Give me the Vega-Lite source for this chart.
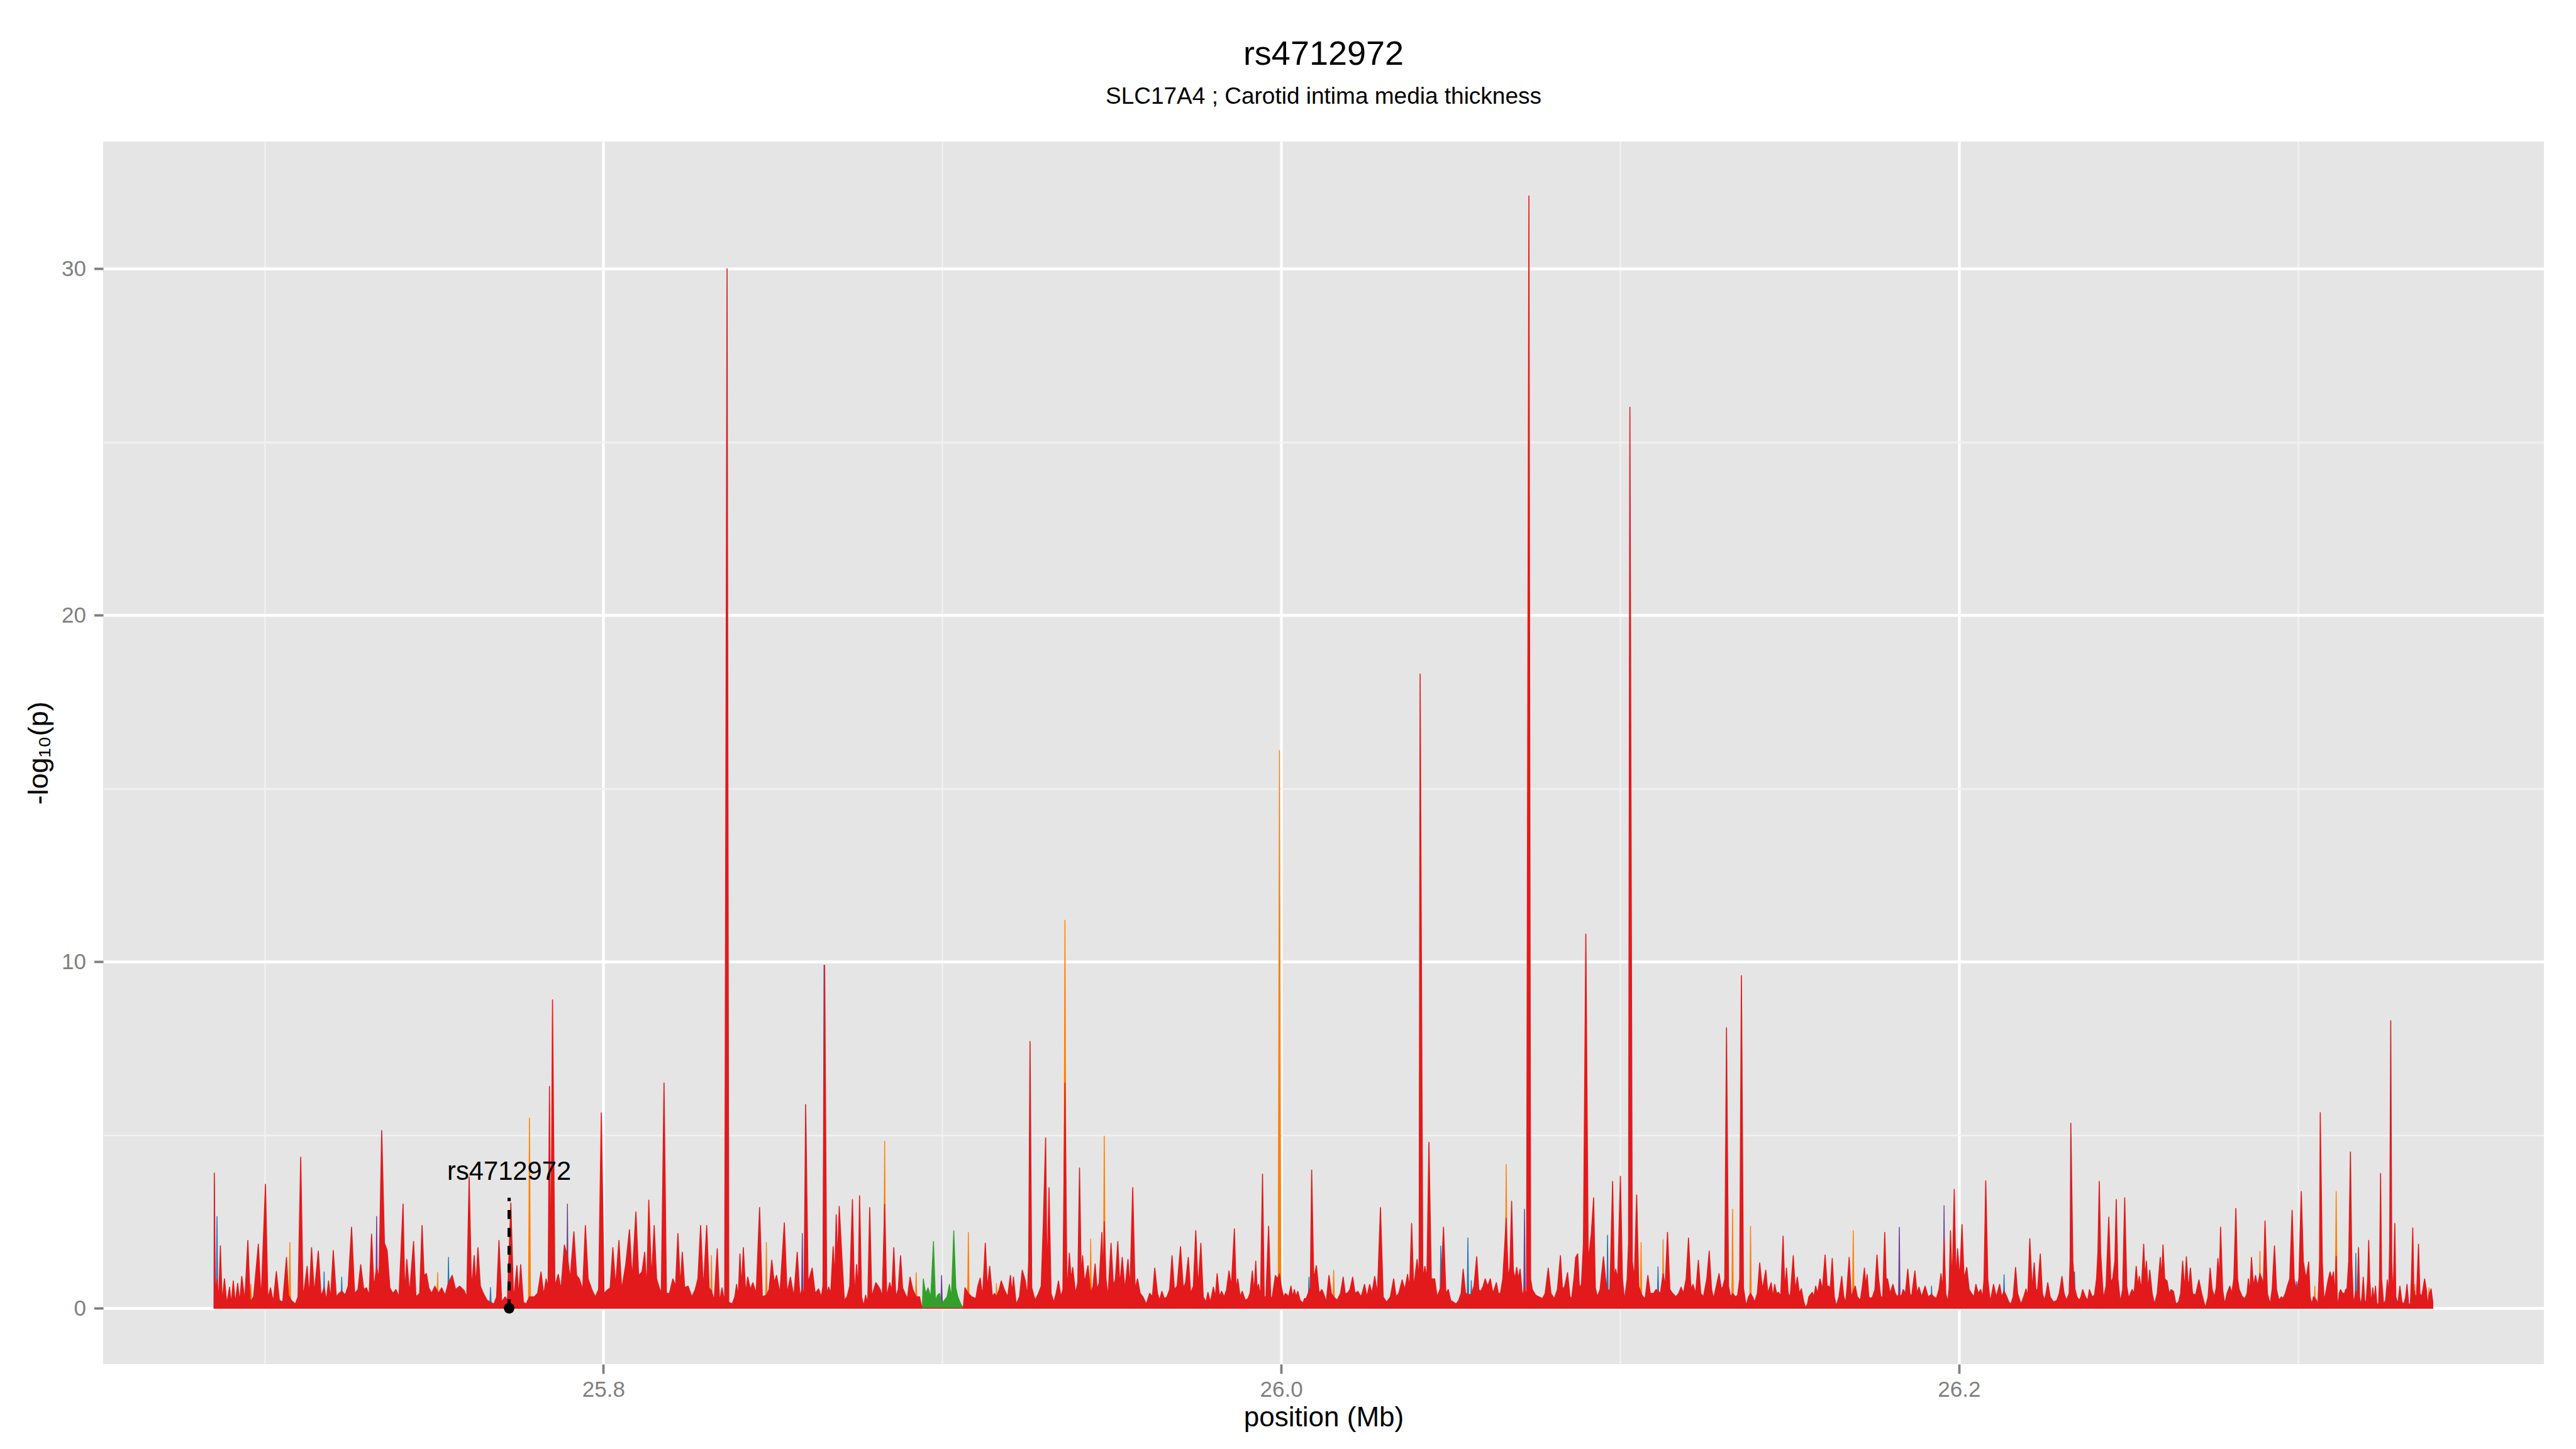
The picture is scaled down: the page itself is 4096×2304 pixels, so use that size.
{
"$schema": "https://vega.github.io/schema/vega-lite/v6.json",
"width": 3881,
"height": 1944,
"autosize": {"type": "none"},
"padding": {"left": 164, "top": 225, "right": 51, "bottom": 135},
"background": "#FFFFFF",
"config": {"view": {"fill": "#E5E5E5", "stroke": null}, "font": "Liberation Sans"},
"title": {"text": "rs4712972", "subtitle": "SLC17A4 ; Carotid intima media thickness", "anchor": "middle", "frame": "group", "font": "Liberation Sans", "fontSize": 54, "fontWeight": "normal", "color": "#000000", "subtitleFont": "Liberation Sans", "subtitleFontSize": 37, "subtitleFontWeight": "normal", "subtitleColor": "#000000", "subtitlePadding": 22, "offset": 53},
"datasets": {
"red": [
{"x":25.6852,"y":3.9},{"x":25.6855,"y":0.43},{"x":25.686,"y":0.85},{"x":25.6865,"y":0.23},{"x":25.687,"y":1.8},{"x":25.6875,"y":0.18},{"x":25.6882,"y":0.85},{"x":25.6889,"y":0.12},{"x":25.6897,"y":0.61},{"x":25.6902,"y":0.12},{"x":25.6908,"y":0.79},{"x":25.6914,"y":0.15},{"x":25.6921,"y":0.72},{"x":25.6927,"y":0.18},{"x":25.6933,"y":0.92},{"x":25.6942,"y":0.23},{"x":25.6951,"y":1.96},{"x":25.6958,"y":0.18},{"x":25.6968,"y":0.33},{"x":25.6982,"y":1.85},{"x":25.699,"y":0.23},{"x":25.7003,"y":3.58},{"x":25.701,"y":0.28},{"x":25.7018,"y":0.59},{"x":25.7026,"y":0.18},{"x":25.7035,"y":1.06},{"x":25.7044,"y":0.23},{"x":25.7054,"y":0.18},{"x":25.7065,"y":1.47},{"x":25.7071,"y":0.38},{"x":25.7079,"y":0.23},{"x":25.7091,"y":0.12},{"x":25.7099,"y":0.33},{"x":25.7107,"y":4.36},{"x":25.7114,"y":0.28},{"x":25.7126,"y":1.21},{"x":25.7132,"y":0.33},{"x":25.7139,"y":1.75},{"x":25.7147,"y":0.43},{"x":25.7159,"y":1.65},{"x":25.7167,"y":0.33},{"x":25.7176,"y":0.6},{"x":25.7183,"y":0.23},{"x":25.7189,"y":0.79},{"x":25.7195,"y":0.28},{"x":25.7203,"y":1.67},{"x":25.7212,"y":0.33},{"x":25.722,"y":0.43},{"x":25.7228,"y":0.5},{"x":25.7238,"y":0.38},{"x":25.7247,"y":0.64},{"x":25.7257,"y":2.34},{"x":25.7266,"y":0.43},{"x":25.7276,"y":0.54},{"x":25.7284,"y":1.26},{"x":25.7293,"y":0.54},{"x":25.7301,"y":0.59},{"x":25.7309,"y":0.38},{"x":25.7316,"y":2.14},{"x":25.7323,"y":0.59},{"x":25.7331,"y":1.2},{"x":25.7338,"y":0.85},{"x":25.7346,"y":5.13},{"x":25.7354,"y":1.88},{"x":25.7362,"y":1.67},{"x":25.737,"y":0.59},{"x":25.7379,"y":0.43},{"x":25.7388,"y":0.54},{"x":25.7397,"y":0.33},{"x":25.7409,"y":3.01},{"x":25.7414,"y":0.43},{"x":25.742,"y":1.41},{"x":25.7428,"y":0.43},{"x":25.744,"y":1.93},{"x":25.7447,"y":0.33},{"x":25.7458,"y":0.43},{"x":25.7465,"y":2.39},{"x":25.7471,"y":0.95},{"x":25.7478,"y":1.0},{"x":25.7485,"y":0.59},{"x":25.7493,"y":0.43},{"x":25.7503,"y":0.64},{"x":25.7513,"y":0.43},{"x":25.7523,"y":0.59},{"x":25.7533,"y":0.38},{"x":25.7543,"y":0.74},{"x":25.7554,"y":0.95},{"x":25.7564,"y":0.54},{"x":25.7576,"y":0.64},{"x":25.7589,"y":0.51},{"x":25.7597,"y":0.33},{"x":25.7604,"y":3.79},{"x":25.7611,"y":0.54},{"x":25.7619,"y":1.52},{"x":25.7624,"y":0.64},{"x":25.763,"y":1.75},{"x":25.7637,"y":0.64},{"x":25.7646,"y":0.43},{"x":25.7657,"y":0.23},{"x":25.7667,"y":0.18},{"x":25.7677,"y":0.12},{"x":25.7685,"y":0.33},{"x":25.7692,"y":1.96},{"x":25.77,"y":0.18},{"x":25.771,"y":0.33},{"x":25.7717,"y":0.23},{"x":25.7727,"y":3.04},{"x":25.7735,"y":0.23},{"x":25.7745,"y":1.23},{"x":25.775,"y":0.33},{"x":25.7756,"y":1.26},{"x":25.7764,"y":0.18},{"x":25.7772,"y":0.12},{"x":25.7782,"y":0.33},{"x":25.7796,"y":0.33},{"x":25.7806,"y":0.43},{"x":25.7816,"y":1.05},{"x":25.7824,"y":0.38},{"x":25.7831,"y":0.85},{"x":25.7837,"y":0.59},{"x":25.7841,"y":6.4},{"x":25.7845,"y":0.64},{"x":25.785,"y":8.9},{"x":25.7857,"y":0.64},{"x":25.7867,"y":0.98},{"x":25.7875,"y":0.54},{"x":25.7885,"y":1.83},{"x":25.7894,"y":1.5},{"x":25.7902,"y":0.85},{"x":25.7913,"y":2.21},{"x":25.7921,"y":0.95},{"x":25.7929,"y":0.85},{"x":25.7939,"y":0.54},{"x":25.7947,"y":2.39},{"x":25.7955,"y":0.85},{"x":25.7966,"y":0.54},{"x":25.7976,"y":0.33},{"x":25.7986,"y":0.54},{"x":25.7994,"y":5.64},{"x":25.8002,"y":0.43},{"x":25.8013,"y":0.54},{"x":25.802,"y":0.59},{"x":25.8028,"y":1.75},{"x":25.8036,"y":0.64},{"x":25.8046,"y":1.96},{"x":25.8054,"y":0.54},{"x":25.8066,"y":1.26},{"x":25.8077,"y":2.27},{"x":25.8085,"y":0.85},{"x":25.8096,"y":2.78},{"x":25.8104,"y":0.95},{"x":25.8114,"y":1.05},{"x":25.8122,"y":1.62},{"x":25.8128,"y":0.54},{"x":25.8134,"y":3.12},{"x":25.8142,"y":0.85},{"x":25.815,"y":2.39},{"x":25.8157,"y":0.85},{"x":25.8165,"y":0.59},{"x":25.8171,"y":0.43},{"x":25.8179,"y":6.5},{"x":25.8186,"y":0.43},{"x":25.8195,"y":0.43},{"x":25.8205,"y":0.85},{"x":25.8213,"y":0.64},{"x":25.822,"y":2.16},{"x":25.8227,"y":0.64},{"x":25.8233,"y":1.62},{"x":25.824,"y":0.59},{"x":25.825,"y":0.64},{"x":25.8261,"y":0.33},{"x":25.8271,"y":0.54},
{"x":25.8279,"y":0.85},{"x":25.8287,"y":2.39},{"x":25.8295,"y":0.54},{"x":25.8305,"y":2.39},{"x":25.8312,"y":0.59},{"x":25.8319,"y":0.5},{"x":25.8327,"y":0.23},{"x":25.8336,"y":1.72},{"x":25.8343,"y":0.18},{"x":25.835,"y":0.59},{"x":25.8358,"y":0.18},{"x":25.8365,"y":30.0},{"x":25.837,"y":0.18},{"x":25.838,"y":0.12},{"x":25.8388,"y":0.33},{"x":25.8393,"y":0.69},{"x":25.8398,"y":0.33},{"x":25.8403,"y":1.57},{"x":25.8408,"y":0.59},{"x":25.8413,"y":1.75},{"x":25.842,"y":0.43},{"x":25.8426,"y":0.9},{"x":25.8434,"y":0.54},{"x":25.8441,"y":0.74},{"x":25.8451,"y":0.43},{"x":25.8461,"y":2.91},{"x":25.8469,"y":0.33},{"x":25.8481,"y":0.38},{"x":25.8489,"y":0.54},{"x":25.8497,"y":1.39},{"x":25.8504,"y":0.74},{"x":25.8511,"y":0.95},{"x":25.8521,"y":0.43},{"x":25.8534,"y":2.47},{"x":25.8542,"y":0.43},{"x":25.8552,"y":0.9},{"x":25.8562,"y":0.33},{"x":25.8572,"y":1.62},{"x":25.858,"y":0.33},{"x":25.8587,"y":0.6},{"x":25.8592,"y":0.33},{"x":25.8597,"y":5.88},{"x":25.8604,"y":0.74},{"x":25.8616,"y":1.16},{"x":25.8625,"y":0.43},{"x":25.8635,"y":0.56},{"x":25.8643,"y":0.33},{"x":25.8648,"y":0.64},{"x":25.8653,"y":9.9},{"x":25.8659,"y":0.43},{"x":25.8665,"y":0.61},{"x":25.8671,"y":0.43},{"x":25.8678,"y":1.78},{"x":25.8683,"y":0.85},{"x":25.8687,"y":2.7},{"x":25.8691,"y":1.36},{"x":25.8696,"y":2.94},{"x":25.8703,"y":1.62},{"x":25.8711,"y":0.23},{"x":25.8719,"y":0.33},{"x":25.8727,"y":0.64},{"x":25.8735,"y":3.14},{"x":25.8741,"y":0.33},{"x":25.8747,"y":1.26},{"x":25.8752,"y":0.54},{"x":25.8756,"y":3.25},{"x":25.8762,"y":0.33},{"x":25.8768,"y":0.07},{"x":25.8774,"y":0.38},{"x":25.878,"y":0.12},{"x":25.8786,"y":2.91},{"x":25.8792,"y":0.33},{"x":25.8798,"y":0.54},{"x":25.8804,"y":0.74},{"x":25.8811,"y":0.64},{"x":25.8817,"y":0.54},{"x":25.8823,"y":0.33},{"x":25.883,"y":3.0},{"x":25.8836,"y":0.33},{"x":25.8845,"y":0.74},{"x":25.8851,"y":0.49},{"x":25.8857,"y":1.75},{"x":25.8863,"y":0.33},{"x":25.887,"y":0.54},{"x":25.8877,"y":1.52},{"x":25.8883,"y":0.59},{"x":25.889,"y":0.43},{"x":25.8897,"y":0.28},{"x":25.8905,"y":0.9},{"x":25.8913,"y":0.54},{"x":25.8923,"y":0.33},{"x":25.8933,"y":0.33},{"x":25.894,"y":0},{"x":25.9062,"y":0},{"x":25.9067,"y":0.59},{"x":25.9077,"y":0.43},{"x":25.9087,"y":0.33},{"x":25.9099,"y":0.28},{"x":25.9105,"y":0.64},{"x":25.9112,"y":0.87},{"x":25.9119,"y":0.33},{"x":25.9127,"y":1.88},{"x":25.9133,"y":0.59},{"x":25.914,"y":1.21},{"x":25.9148,"y":0.33},{"x":25.9154,"y":0.43},{"x":25.916,"y":0.33},{"x":25.9168,"y":0.54},{"x":25.9174,"y":0.79},{"x":25.9183,"y":0.54},{"x":25.9193,"y":0.33},{"x":25.9201,"y":0.95},{"x":25.9206,"y":0.43},{"x":25.921,"y":0.9},{"x":25.9218,"y":0.12},{"x":25.9228,"y":0.33},{"x":25.9236,"y":1.1},{"x":25.9245,"y":0.79},{"x":25.9251,"y":0.33},{"x":25.9255,"y":1.36},{"x":25.9259,"y":7.7},{"x":25.9264,"y":0.59},{"x":25.9274,"y":0.23},{"x":25.9284,"y":0.43},{"x":25.9292,"y":0.64},{"x":25.9298,"y":2.39},{"x":25.9305,"y":4.92},{"x":25.9309,"y":0.85},{"x":25.9315,"y":3.48},{"x":25.9321,"y":0.43},{"x":25.9329,"y":0.18},{"x":25.9336,"y":0.43},{"x":25.9343,"y":0.79},{"x":25.935,"y":0.33},{"x":25.9356,"y":0.54},{"x":25.9362,"y":6.5},{"x":25.9368,"y":0.43},{"x":25.9375,"y":1.59},{"x":25.938,"y":0.85},{"x":25.9385,"y":1.18},{"x":25.9393,"y":0.43},{"x":25.94,"y":0.74},{"x":25.9405,"y":4.05},{"x":25.941,"y":0.85},{"x":25.9414,"y":1.52},{"x":25.942,"y":0.74},{"x":25.943,"y":1.23},{"x":25.9438,"y":0.43},{"x":25.9445,"y":0.64},{"x":25.9451,"y":1.28},{"x":25.9457,"y":0.54},{"x":25.9463,"y":0.74},{"x":25.9471,"y":2.19},{"x":25.9475,"y":0.85},{"x":25.9478,"y":2.5},{"x":25.9483,"y":0.85},{"x":25.9489,"y":0.33},{"x":25.9498,"y":1.88},{"x":25.9505,"y":0.64},{"x":25.9511,"y":0.85},{"x":25.9518,"y":1.93},{"x":25.9524,"y":0.64},{"x":25.9531,"y":1.47},{"x":25.9539,"y":0.54},{"x":25.9548,"y":1.41},{"x":25.9554,"y":0.59},{"x":25.9562,"y":3.48},{"x":25.9569,"y":0.54},{"x":25.9576,"y":0.85},{"x":25.9584,"y":0.43},{"x":25.9592,"y":0.33},{"x":25.9602,"y":0.12},{"x":25.9612,"y":0.43},{"x":25.962,"y":0.33},{"x":25.9627,"y":1.16},{"x":25.9635,"y":0.43},{"x":25.9641,"y":0.23},{"x":25.9648,"y":0.49},{"x":25.9655,"y":0.28},{"x":25.9663,"y":0.33},{"x":25.9671,"y":0.54},{"x":25.9678,"y":1.52},{"x":25.9685,"y":0.54},{"x":25.9693,"y":0.64},{"x":25.9703,"y":1.78},{"x":25.9711,"y":0.59},{"x":25.9718,"y":0.74},{"x":25.9726,"y":1.47},{"x":25.9733,"y":0.43},{"x":25.9741,"y":0.64},{"x":25.9748,"y":2.24},{"x":25.9755,"y":0.59},{"x":25.9763,"y":1.88},{"x":25.977,"y":0.33},{"x":25.9778,"y":0.18},{"x":25.9784,"y":0.46},{"x":25.9791,"y":0.18},{"x":25.98,"y":0.61},{"x":25.9806,"y":0.33},{"x":25.9811,"y":1.0},{"x":25.9818,"y":0.33},{"x":25.9824,"y":0.49},{"x":25.9832,"y":0.33},{"x":25.9839,"y":0.54},{"x":25.9846,"y":1.08},{"x":25.9853,"y":0.64},
{"x":25.9862,"y":2.29},{"x":25.9867,"y":0.54},{"x":25.9872,"y":0.85},{"x":25.9879,"y":0.33},{"x":25.9885,"y":0.49},{"x":25.9894,"y":0.23},{"x":25.9902,"y":0.28},{"x":25.9908,"y":0.43},{"x":25.9915,"y":1.08},{"x":25.992,"y":0.43},{"x":25.9925,"y":1.36},{"x":25.9929,"y":0.54},{"x":25.9933,"y":0.69},{"x":25.9939,"y":0.33},{"x":25.9945,"y":3.87},{"x":25.995,"y":0.33},{"x":25.9955,"y":0.33},{"x":25.9963,"y":2.37},{"x":25.9969,"y":0.33},{"x":25.9973,"y":0.28},{"x":25.9983,"y":0.95},{"x":25.9989,"y":0.85},{"x":25.9995,"y":1.0},{"x":26.0001,"y":0.59},{"x":26.0007,"y":0.33},{"x":26.0013,"y":0.43},{"x":26.0022,"y":0.33},{"x":26.0029,"y":0.64},{"x":26.0034,"y":0.33},{"x":26.0039,"y":0.54},{"x":26.0044,"y":0.33},{"x":26.0049,"y":0.49},{"x":26.0056,"y":0.23},{"x":26.0064,"y":0.15},{"x":26.0069,"y":0.28},{"x":26.0074,"y":0.28},{"x":26.0082,"y":0.5},{"x":26.0086,"y":0.59},{"x":26.009,"y":3.99},{"x":26.0096,"y":0.85},{"x":26.0104,"y":1.23},{"x":26.0112,"y":0.43},{"x":26.012,"y":0.54},{"x":26.0125,"y":0.43},{"x":26.0133,"y":0.18},{"x":26.0141,"y":0.95},{"x":26.0148,"y":0.43},{"x":26.0155,"y":0.33},{"x":26.0165,"y":0.23},{"x":26.0175,"y":0.43},{"x":26.0183,"y":0.9},{"x":26.0189,"y":0.43},{"x":26.0195,"y":0.43},{"x":26.0203,"y":0.54},{"x":26.0211,"y":0.9},{"x":26.0218,"y":0.43},{"x":26.0226,"y":0.49},{"x":26.0236,"y":0.33},{"x":26.0246,"y":0.69},{"x":26.0253,"y":0.33},{"x":26.0261,"y":0.69},{"x":26.0268,"y":0.43},{"x":26.0276,"y":0.92},{"x":26.0284,"y":0.43},{"x":26.0293,"y":2.91},{"x":26.0301,"y":0.33},{"x":26.0311,"y":0.18},{"x":26.0322,"y":0.33},{"x":26.0332,"y":0.85},{"x":26.0339,"y":0.33},{"x":26.0347,"y":0.43},{"x":26.0357,"y":0.82},{"x":26.0365,"y":0.54},{"x":26.0373,"y":0.98},{"x":26.0379,"y":0.59},{"x":26.0385,"y":2.45},{"x":26.0391,"y":0.59},{"x":26.0401,"y":1.41},{"x":26.0407,"y":0.85},{"x":26.041,"y":18.3},{"x":26.0418,"y":0.85},{"x":26.0424,"y":1.21},{"x":26.043,"y":0.85},{"x":26.0436,"y":4.79},{"x":26.0443,"y":0.85},{"x":26.0453,"y":0.85},{"x":26.046,"y":0.33},{"x":26.0471,"y":0.6},{"x":26.0479,"y":2.34},{"x":26.0486,"y":0.43},{"x":26.0493,"y":0.54},{"x":26.05,"y":0.23},{"x":26.0508,"y":0.18},{"x":26.0516,"y":0.12},{"x":26.0524,"y":0.23},{"x":26.0531,"y":0.43},{"x":26.0537,"y":1.13},{"x":26.0544,"y":0.43},{"x":26.0551,"y":0.4},{"x":26.0561,"y":0.4},{"x":26.0569,"y":0.64},{"x":26.0577,"y":1.49},{"x":26.0583,"y":0.54},{"x":26.0589,"y":0.49},{"x":26.0596,"y":0.64},{"x":26.0602,"y":0.85},{"x":26.0609,"y":0.64},{"x":26.0617,"y":0.85},{"x":26.0625,"y":0.43},{"x":26.0635,"y":0.74},{"x":26.0641,"y":0.43},{"x":26.0647,"y":0.43},{"x":26.0654,"y":0.85},{"x":26.066,"y":1.88},{"x":26.0664,"y":2.6},{"x":26.067,"y":0.85},{"x":26.0675,"y":1.21},{"x":26.068,"y":3.09},{"x":26.0685,"y":1.1},{"x":26.069,"y":0.85},{"x":26.0695,"y":1.18},{"x":26.07,"y":0.85},{"x":26.0705,"y":1.13},{"x":26.0712,"y":0.33},{"x":26.0718,"y":0.6},{"x":26.0724,"y":0.33},{"x":26.0731,"y":32.1},{"x":26.0736,"y":0.85},{"x":26.0741,"y":0.54},{"x":26.0751,"y":0.38},{"x":26.0761,"y":0.33},{"x":26.0771,"y":0.28},{"x":26.0779,"y":0.43},{"x":26.0788,"y":1.16},{"x":26.0796,"y":0.43},{"x":26.0806,"y":0.28},{"x":26.0815,"y":0.54},{"x":26.0824,"y":1.52},{"x":26.083,"y":0.54},{"x":26.0837,"y":0.64},{"x":26.0845,"y":1.03},{"x":26.0852,"y":0.33},{"x":26.0857,"y":0.28},{"x":26.0864,"y":0.85},{"x":26.0869,"y":1.47},{"x":26.0875,"y":1.57},{"x":26.088,"y":0.59},{"x":26.0886,"y":0.69},{"x":26.0892,"y":1.88},{"x":26.0899,"y":10.8},{"x":26.0906,"y":1.36},{"x":26.0915,"y":2.14},{"x":26.0922,"y":3.19},{"x":26.0927,"y":0.59},{"x":26.0933,"y":0.33},{"x":26.0941,"y":0.54},{"x":26.0951,"y":1.49},{"x":26.0957,"y":0.85},{"x":26.0963,"y":0.5},{"x":26.097,"y":0.54},{"x":26.0978,"y":3.66},{"x":26.0983,"y":0.85},{"x":26.0987,"y":1.13},{"x":26.0993,"y":0.85},{"x":26.1001,"y":3.81},{"x":26.1007,"y":0.85},{"x":26.1013,"y":0.23},{"x":26.1021,"y":0.85},{"x":26.1025,"y":1.88},{"x":26.1029,"y":26.0},{"x":26.1036,"y":1.36},{"x":26.1042,"y":0.85},{"x":26.1049,"y":3.27},{"x":26.1055,"y":0.64},{"x":26.1062,"y":0.43},{"x":26.1068,"y":0.33},{"x":26.1074,"y":0.28},{"x":26.1082,"y":0.95},{"x":26.1089,"y":0.43},{"x":26.1099,"y":0.43},{"x":26.1106,"y":0.54},{"x":26.1112,"y":0.5},{"x":26.1119,"y":0.43},{"x":26.1127,"y":1.0},{"x":26.1133,"y":0.64},{"x":26.114,"y":2.19},{"x":26.1147,"y":0.54},{"x":26.1155,"y":0.43},{"x":26.1165,"y":0.33},{"x":26.1173,"y":0.43},{"x":26.118,"y":0.61},{"x":26.1187,"y":0.43},{"x":26.1195,"y":0.85},{"x":26.1202,"y":2.03},{"x":26.1209,"y":0.54},{"x":26.1215,"y":0.69},{"x":26.1223,"y":0.43},{"x":26.1231,"y":1.39},{"x":26.1238,"y":0.43},{"x":26.1246,"y":0.33},{"x":26.1256,"y":0.85},{"x":26.1263,"y":1.65},{"x":26.127,"y":0.54},{"x":26.1276,"y":0.28},{"x":26.1284,"y":0.64},{"x":26.1292,"y":1.0},{"x":26.1299,"y":0.54},{"x":26.1304,"y":0.64},{"x":26.1309,"y":0.85},{"x":26.1314,"y":8.1},{"x":26.132,"y":0.64},{"x":26.1326,"y":0.33},{"x":26.1332,"y":0.43},{"x":26.134,"y":0.33},{"x":26.1347,"y":0.38},{"x":26.1353,"y":0.85},{"x":26.1358,"y":9.6},{"x":26.1364,"y":0.59},{"x":26.1372,"y":0.07},{"x":26.1379,"y":0.33},{"x":26.1385,"y":0.43},{"x":26.1391,"y":0.33},{"x":26.1397,"y":0.18},{"x":26.1405,"y":0.43},{"x":26.1412,"y":1.31},{"x":26.142,"y":0.54},{"x":26.143,"y":1.1},{"x":26.1436,"y":0.43},
{"x":26.1446,"y":0.74},{"x":26.1451,"y":0.33},{"x":26.1456,"y":0.69},{"x":26.1462,"y":0.43},{"x":26.1468,"y":0.46},{"x":26.1474,"y":0.33},{"x":26.1481,"y":2.08},{"x":26.1486,"y":0.54},{"x":26.1491,"y":1.16},{"x":26.1496,"y":0.43},{"x":26.1502,"y":0.33},{"x":26.1511,"y":1.52},{"x":26.1517,"y":0.54},{"x":26.1523,"y":0.9},{"x":26.1529,"y":0.43},{"x":26.1535,"y":0.56},{"x":26.1541,"y":0.23},{"x":26.1547,"y":0.02},{"x":26.1553,"y":0.12},{"x":26.1557,"y":0.33},{"x":26.1567,"y":0.46},{"x":26.1572,"y":0.33},{"x":26.1577,"y":0.64},{"x":26.1583,"y":0.43},{"x":26.159,"y":0.85},{"x":26.1597,"y":0.54},{"x":26.1605,"y":1.54},{"x":26.1611,"y":0.64},{"x":26.1616,"y":0.64},{"x":26.162,"y":0.54},{"x":26.1626,"y":1.44},{"x":26.1632,"y":0.33},{"x":26.1638,"y":0.07},{"x":26.1646,"y":0.33},{"x":26.1654,"y":0.92},{"x":26.166,"y":0.33},{"x":26.1666,"y":0.18},{"x":26.167,"y":0.64},{"x":26.1676,"y":1.47},{"x":26.1682,"y":0.33},{"x":26.1688,"y":0.5},{"x":26.1694,"y":0.64},{"x":26.17,"y":0.33},{"x":26.1709,"y":0.23},{"x":26.1715,"y":0.64},{"x":26.1721,"y":1.16},{"x":26.1725,"y":0.64},{"x":26.1729,"y":0.98},{"x":26.1734,"y":0.33},{"x":26.1739,"y":0.28},{"x":26.1745,"y":0.33},{"x":26.1752,"y":0.54},{"x":26.1758,"y":1.54},{"x":26.1763,"y":0.85},{"x":26.1769,"y":0.33},{"x":26.1775,"y":0.33},{"x":26.1781,"y":2.19},{"x":26.1785,"y":0.85},{"x":26.1789,"y":0.85},{"x":26.1797,"y":0.43},{"x":26.1805,"y":0.69},{"x":26.1812,"y":0.43},{"x":26.1818,"y":0.33},{"x":26.1824,"y":0.43},{"x":26.183,"y":0.33},{"x":26.1835,"y":0.54},{"x":26.1842,"y":0.43},{"x":26.1849,"y":1.13},{"x":26.1855,"y":0.43},{"x":26.186,"y":0.33},{"x":26.187,"y":1.08},{"x":26.1876,"y":0.43},{"x":26.1882,"y":0.61},{"x":26.189,"y":0.33},{"x":26.19,"y":0.64},{"x":26.1909,"y":0.33},{"x":26.1919,"y":0.4},{"x":26.1926,"y":0.33},{"x":26.1933,"y":0.28},{"x":26.1941,"y":0.54},{"x":26.1947,"y":1.0},{"x":26.1952,"y":0.54},{"x":26.1956,"y":2.0},{"x":26.1961,"y":0.43},{"x":26.1967,"y":0.18},{"x":26.1971,"y":0.59},{"x":26.1975,"y":2.24},{"x":26.198,"y":0.64},{"x":26.1986,"y":3.43},{"x":26.1991,"y":0.85},{"x":26.1996,"y":1.72},{"x":26.2002,"y":0.85},{"x":26.2009,"y":2.42},{"x":26.2015,"y":0.85},{"x":26.2023,"y":1.18},{"x":26.203,"y":0.54},{"x":26.2037,"y":0.43},{"x":26.2044,"y":0.33},{"x":26.205,"y":0.69},{"x":26.2057,"y":0.43},{"x":26.2064,"y":0.54},{"x":26.207,"y":0.33},{"x":26.2074,"y":0.85},{"x":26.2079,"y":3.68},{"x":26.2085,"y":0.85},{"x":26.2092,"y":0.18},{"x":26.2097,"y":0.43},{"x":26.2102,"y":0.69},{"x":26.211,"y":0.33},{"x":26.212,"y":0.69},{"x":26.2126,"y":0.33},{"x":26.2133,"y":0.5},{"x":26.2141,"y":0.33},{"x":26.2147,"y":0.18},{"x":26.2153,"y":0.12},{"x":26.216,"y":0.33},{"x":26.2167,"y":1.18},{"x":26.2173,"y":0.43},{"x":26.2183,"y":0.12},{"x":26.2191,"y":0.33},{"x":26.2198,"y":0.56},{"x":26.2203,"y":0.33},{"x":26.2209,"y":2.01},{"x":26.2216,"y":0.54},{"x":26.2222,"y":1.31},{"x":26.2227,"y":0.54},{"x":26.2232,"y":0.54},{"x":26.224,"y":1.57},{"x":26.2246,"y":0.43},{"x":26.2252,"y":0.23},{"x":26.2257,"y":0.43},{"x":26.2262,"y":0.74},{"x":26.2269,"y":0.33},{"x":26.2279,"y":0.18},{"x":26.2289,"y":0.23},{"x":26.2296,"y":0.43},{"x":26.2304,"y":0.92},{"x":26.231,"y":0.43},{"x":26.2317,"y":0.23},{"x":26.2325,"y":0.43},{"x":26.2328,"y":1.36},{"x":26.233,"y":5.34},{"x":26.2336,"y":1.36},{"x":26.2341,"y":0.6},{"x":26.2348,"y":0.33},{"x":26.2355,"y":0.23},{"x":26.236,"y":0.33},{"x":26.2365,"y":0.54},{"x":26.2373,"y":0.33},{"x":26.238,"y":0.23},{"x":26.2385,"y":0.54},{"x":26.2393,"y":0.33},{"x":26.24,"y":0.38},{"x":26.2406,"y":0.85},{"x":26.241,"y":1.62},{"x":26.2414,"y":3.66},{"x":26.2418,"y":1.62},{"x":26.2426,"y":0.28},{"x":26.2434,"y":0.64},{"x":26.2442,"y":2.63},{"x":26.2448,"y":0.74},{"x":26.2454,"y":0.87},{"x":26.246,"y":1.36},{"x":26.2464,"y":3.14},{"x":26.2469,"y":0.85},{"x":26.2476,"y":0.18},{"x":26.2483,"y":0.54},{"x":26.2489,"y":3.19},{"x":26.2495,"y":0.64},{"x":26.2501,"y":0.28},{"x":26.2506,"y":0.43},{"x":26.2511,"y":0.54},{"x":26.2517,"y":0.43},{"x":26.2523,"y":1.21},{"x":26.2528,"y":0.64},{"x":26.2532,"y":0.92},{"x":26.2538,"y":0.54},{"x":26.2545,"y":1.85},{"x":26.2549,"y":0.85},{"x":26.2553,"y":1.36},{"x":26.2558,"y":0.54},{"x":26.2563,"y":1.1},{"x":26.257,"y":0.43},{"x":26.2577,"y":0.12},{"x":26.2585,"y":0.43},{"x":26.2594,"y":1.47},{"x":26.2598,"y":0.85},{"x":26.2602,"y":1.83},{"x":26.2607,"y":0.85},{"x":26.2614,"y":0.79},{"x":26.262,"y":0.43},{"x":26.2626,"y":0.54},{"x":26.2633,"y":0.49},{"x":26.264,"y":0.12},{"x":26.2648,"y":0.18},{"x":26.2654,"y":0.43},{"x":26.266,"y":1.36},{"x":26.2666,"y":0.54},{"x":26.2671,"y":1.49},{"x":26.2677,"y":0.54},{"x":26.2683,"y":1.16},{"x":26.2689,"y":0.43},{"x":26.2698,"y":0.38},{"x":26.2703,"y":0.59},{"x":26.2708,"y":0.82},{"x":26.2716,"y":0.43},{"x":26.2727,"y":0.02},{"x":26.2735,"y":0.33},{"x":26.2741,"y":1.16},{"x":26.2747,"y":0.54},{"x":26.2754,"y":0.33},{"x":26.2759,"y":0.59},{"x":26.2764,"y":1.44},{"x":26.2768,"y":0.85},{"x":26.2772,"y":2.34},{"x":26.2778,"y":0.54},{"x":26.2784,"y":0.12},{"x":26.2791,"y":0.43},{"x":26.2799,"y":0.64},{"x":26.2805,"y":0.43},{"x":26.2811,"y":0.85},{"x":26.2817,"y":2.88},{"x":26.2822,"y":0.85},{"x":26.2827,"y":0.54},{"x":26.2836,"y":0.33},{"x":26.2844,"y":0.28},{"x":26.285,"y":0.43},{"x":26.2854,"y":0.85},{"x":26.2858,"y":0.43},{"x":26.2863,"y":1.47},{"x":26.2869,"y":0.64},{"x":26.2875,"y":0.95},{"x":26.2881,"y":0.64},{"x":26.2888,"y":1.0},{"x":26.2894,"y":0.85},{"x":26.2898,"y":0.64},{"x":26.2903,"y":2.52},{"x":26.291,"y":0.43},{"x":26.2918,"y":0.12},{"x":26.2924,"y":0.54},{"x":26.2931,"y":1.8},{"x":26.2937,"y":0.54},{"x":26.2944,"y":0.23},{"x":26.2951,"y":0.33},{"x":26.2956,"y":0.28},{"x":26.2963,"y":0.43},{"x":26.2969,"y":0.64},{"x":26.2976,"y":0.85},{"x":26.2983,"y":2.83},{"x":26.2989,"y":0.85},{"x":26.2996,"y":0.5},{"x":26.3003,"y":0.85},{"x":26.301,"y":3.37},{"x":26.3016,"y":1.36},{"x":26.3024,"y":0.85},
{"x":26.3032,"y":1.34},{"x":26.3036,"y":0.33},{"x":26.3041,"y":0.12},{"x":26.3046,"y":0.33},{"x":26.305,"y":0.3},{"x":26.3055,"y":0.23},{"x":26.3059,"y":0.07},{"x":26.3064,"y":1.36},{"x":26.3066,"y":5.65},{"x":26.3072,"y":1.36},{"x":26.3077,"y":0.23},{"x":26.3082,"y":0.43},{"x":26.3087,"y":0.69},{"x":26.309,"y":0.85},{"x":26.3095,"y":1.05},{"x":26.31,"y":0.85},{"x":26.3105,"y":1.05},{"x":26.3109,"y":0.33},{"x":26.3113,"y":1.5},{"x":26.3116,"y":0.33},{"x":26.3119,"y":0.02},{"x":26.3122,"y":0.43},{"x":26.3126,"y":0.54},{"x":26.3132,"y":0.43},{"x":26.3138,"y":0.43},{"x":26.3141,"y":0.54},{"x":26.3145,"y":0.56},{"x":26.315,"y":1.36},{"x":26.3155,"y":4.51},{"x":26.3159,"y":1.36},{"x":26.3164,"y":0.12},{"x":26.3168,"y":0.33},{"x":26.3171,"y":0.5},{"x":26.3175,"y":0.33},{"x":26.3179,"y":1.75},{"x":26.3182,"y":0.33},{"x":26.3186,"y":0.07},{"x":26.3189,"y":0.33},{"x":26.3193,"y":0.9},{"x":26.3197,"y":0.23},{"x":26.3201,"y":0.12},{"x":26.3206,"y":0.85},{"x":26.3209,"y":1.96},{"x":26.3212,"y":0.85},{"x":26.3216,"y":0.12},{"x":26.3221,"y":0.59},{"x":26.3225,"y":0.23},{"x":26.3229,"y":0.64},{"x":26.3233,"y":0.12},{"x":26.3238,"y":0.12},{"x":26.3241,"y":0.85},{"x":26.3244,"y":3.89},{"x":26.3247,"y":0.85},{"x":26.3253,"y":0.12},{"x":26.3259,"y":0.23},{"x":26.3264,"y":0.82},{"x":26.3268,"y":0.33},{"x":26.3271,"y":1.88},{"x":26.3274,"y":8.3},{"x":26.3277,"y":1.36},{"x":26.3281,"y":0.23},{"x":26.3286,"y":2.45},{"x":26.3289,"y":0.33},{"x":26.3295,"y":0.12},{"x":26.3301,"y":0.64},{"x":26.3307,"y":0.18},{"x":26.3313,"y":0.12},{"x":26.3318,"y":0.33},{"x":26.3322,"y":0.69},{"x":26.3327,"y":0.12},{"x":26.3332,"y":0.12},{"x":26.3335,"y":0.85},{"x":26.3339,"y":2.32},{"x":26.3342,"y":0.54},{"x":26.3345,"y":0.4},{"x":26.335,"y":0.33},{"x":26.3356,"y":1.85},{"x":26.336,"y":0.43},{"x":26.3365,"y":0.33},{"x":26.3369,"y":0.54},{"x":26.3374,"y":0.85},{"x":26.3379,"y":0.54},{"x":26.3383,"y":0.07},{"x":26.3387,"y":0.4},{"x":26.3393,"y":0.56},{"x":26.3398,"y":0.18}
],
"spk": [
{"x":25.69575,"y":0,"g":"orange"},{"x":25.696,"y":0.7,"g":"orange"},{"x":25.69625,"y":0,"g":"orange"},
{"x":25.70725,"y":0,"g":"orange"},{"x":25.7075,"y":1.9,"g":"orange"},{"x":25.70775,"y":0,"g":"orange"},
{"x":25.75085,"y":0,"g":"orange"},{"x":25.7511,"y":1.03,"g":"orange"},{"x":25.75135,"y":0,"g":"orange"},
{"x":25.7779,"y":0,"g":"orange"},{"x":25.7782,"y":5.49,"g":"orange"},{"x":25.7785,"y":0,"g":"orange"},
{"x":25.83165,"y":0,"g":"orange"},{"x":25.8319,"y":1.52,"g":"orange"},{"x":25.83215,"y":0,"g":"orange"},
{"x":25.84785,"y":0,"g":"orange"},{"x":25.8481,"y":1.9,"g":"orange"},{"x":25.84835,"y":0,"g":"orange"},
{"x":25.8827,"y":0,"g":"orange"},{"x":25.883,"y":4.82,"g":"orange"},{"x":25.8833,"y":0,"g":"orange"},
{"x":25.89205,"y":0,"g":"orange"},{"x":25.8923,"y":1.03,"g":"orange"},{"x":25.89255,"y":0,"g":"orange"},
{"x":25.90745,"y":0,"g":"orange"},{"x":25.9077,"y":2.19,"g":"orange"},{"x":25.90795,"y":0,"g":"orange"},
{"x":25.91575,"y":0,"g":"orange"},{"x":25.916,"y":0.72,"g":"orange"},{"x":25.91625,"y":0,"g":"orange"},
{"x":25.9358,"y":0,"g":"orange"},{"x":25.9362,"y":11.2,"g":"orange"},{"x":25.9366,"y":0,"g":"orange"},
{"x":25.94355,"y":0,"g":"orange"},{"x":25.9438,"y":2.0,"g":"orange"},{"x":25.94405,"y":0,"g":"orange"},
{"x":25.9475,"y":0,"g":"orange"},{"x":25.9478,"y":4.97,"g":"orange"},{"x":25.9481,"y":0,"g":"orange"},
{"x":25.9991,"y":0,"g":"orange"},{"x":25.9995,"y":16.1,"g":"orange"},{"x":25.9999,"y":0,"g":"orange"},
{"x":26.01525,"y":0,"g":"orange"},{"x":26.0155,"y":1.1,"g":"orange"},{"x":26.01575,"y":0,"g":"orange"},
{"x":26.0661,"y":0,"g":"orange"},{"x":26.0664,"y":4.15,"g":"orange"},{"x":26.0667,"y":0,"g":"orange"},
{"x":26.10595,"y":0,"g":"orange"},{"x":26.1062,"y":1.9,"g":"orange"},{"x":26.10645,"y":0,"g":"orange"},
{"x":26.11245,"y":0,"g":"orange"},{"x":26.1127,"y":1.98,"g":"orange"},{"x":26.11295,"y":0,"g":"orange"},
{"x":26.13295,"y":0,"g":"orange"},{"x":26.1332,"y":2.86,"g":"orange"},{"x":26.13345,"y":0,"g":"orange"},
{"x":26.13825,"y":0,"g":"orange"},{"x":26.1385,"y":2.37,"g":"orange"},{"x":26.13875,"y":0,"g":"orange"},
{"x":26.16855,"y":0,"g":"orange"},{"x":26.1688,"y":2.24,"g":"orange"},{"x":26.16905,"y":0,"g":"orange"},
{"x":26.28855,"y":0,"g":"orange"},{"x":26.2888,"y":1.65,"g":"orange"},{"x":26.28905,"y":0,"g":"orange"},
{"x":26.30475,"y":0,"g":"orange"},{"x":26.305,"y":0.64,"g":"orange"},{"x":26.30525,"y":0,"g":"orange"},
{"x":26.311,"y":0,"g":"orange"},{"x":26.3113,"y":3.37,"g":"orange"},{"x":26.3116,"y":0,"g":"orange"},
{"x":26.33425,"y":0,"g":"orange"},{"x":26.3345,"y":0.69,"g":"orange"},{"x":26.33475,"y":0,"g":"orange"},
{"x":26.33845,"y":0,"g":"orange"},{"x":26.3387,"y":0.59,"g":"orange"},{"x":26.33895,"y":0,"g":"orange"},
{"x":25.68575,"y":0,"g":"blue"},{"x":25.686,"y":2.65,"g":"blue"},{"x":25.68625,"y":0,"g":"blue"},
{"x":25.71735,"y":0,"g":"blue"},{"x":25.7176,"y":1.05,"g":"blue"},{"x":25.71785,"y":0,"g":"blue"},
{"x":25.72255,"y":0,"g":"blue"},{"x":25.7228,"y":0.9,"g":"blue"},{"x":25.72305,"y":0,"g":"blue"},
{"x":25.75405,"y":0,"g":"blue"},{"x":25.7543,"y":1.47,"g":"blue"},{"x":25.75455,"y":0,"g":"blue"},
{"x":25.76645,"y":0,"g":"blue"},{"x":25.7667,"y":0.6,"g":"blue"},{"x":25.76695,"y":0,"g":"blue"},
{"x":25.8648,"y":0,"g":"blue"},{"x":25.8651,"y":9.9,"g":"blue"},{"x":25.8653,"y":0,"g":"blue"},
{"x":26.00795,"y":0,"g":"blue"},{"x":26.0082,"y":0.9,"g":"blue"},{"x":26.00845,"y":0,"g":"blue"},
{"x":26.04685,"y":0,"g":"blue"},{"x":26.0471,"y":1.8,"g":"blue"},{"x":26.04735,"y":0,"g":"blue"},
{"x":26.05485,"y":0,"g":"blue"},{"x":26.0551,"y":2.03,"g":"blue"},{"x":26.05535,"y":0,"g":"blue"},
{"x":26.05585,"y":0,"g":"blue"},{"x":26.0561,"y":0.8,"g":"blue"},{"x":26.05635,"y":0,"g":"blue"},
{"x":26.09605,"y":0,"g":"blue"},{"x":26.0963,"y":2.11,"g":"blue"},{"x":26.09655,"y":0,"g":"blue"},
{"x":26.11095,"y":0,"g":"blue"},{"x":26.1112,"y":1.2,"g":"blue"},{"x":26.11145,"y":0,"g":"blue"},
{"x":26.19165,"y":0,"g":"blue"},{"x":26.1919,"y":0.64,"g":"blue"},{"x":26.19215,"y":0,"g":"blue"},
{"x":26.21305,"y":0,"g":"blue"},{"x":26.2133,"y":0.97,"g":"blue"},{"x":26.21355,"y":0,"g":"blue"},
{"x":26.23385,"y":0,"g":"blue"},{"x":26.2341,"y":1.05,"g":"blue"},{"x":26.23435,"y":0,"g":"blue"},
{"x":26.31685,"y":0,"g":"blue"},{"x":26.3171,"y":1.59,"g":"blue"},{"x":26.31735,"y":0,"g":"blue"},
{"x":25.6851,"y":0,"g":"purple"},{"x":25.6852,"y":3.6,"g":"purple"},{"x":25.6854,"y":0,"g":"purple"},
{"x":25.73285,"y":0,"g":"purple"},{"x":25.7331,"y":2.65,"g":"purple"},{"x":25.73335,"y":0,"g":"purple"},
{"x":25.78915,"y":0,"g":"purple"},{"x":25.7894,"y":3.01,"g":"purple"},{"x":25.78965,"y":0,"g":"purple"},
{"x":25.85845,"y":0,"g":"purple"},{"x":25.8587,"y":2.16,"g":"purple"},{"x":25.85895,"y":0,"g":"purple"},
{"x":25.89955,"y":0,"g":"purple"},{"x":25.8998,"y":0.95,"g":"purple"},{"x":25.90005,"y":0,"g":"purple"},
{"x":26.07155,"y":0,"g":"purple"},{"x":26.0718,"y":2.86,"g":"purple"},{"x":26.07205,"y":0,"g":"purple"},
{"x":26.18215,"y":0,"g":"purple"},{"x":26.1824,"y":2.34,"g":"purple"},{"x":26.18265,"y":0,"g":"purple"},
{"x":26.19535,"y":0,"g":"purple"},{"x":26.1956,"y":2.96,"g":"purple"},{"x":26.19585,"y":0,"g":"purple"},
{"x":26.29935,"y":0,"g":"purple"},{"x":26.2996,"y":0.77,"g":"purple"},{"x":26.29985,"y":0,"g":"purple"},
{"x":25.8941,"y":0,"g":"green"},{"x":25.8944,"y":0.85,"g":"green"},{"x":25.8951,"y":0.43,"g":"green"},{"x":25.8958,"y":0.59,"g":"green"},{"x":25.8966,"y":0.33,"g":"green"},{"x":25.8974,"y":1.93,"g":"green"},{"x":25.898,"y":0.23,"g":"green"},{"x":25.8986,"y":0.38,"g":"green"},{"x":25.8992,"y":0.43,"g":"green"},{"x":25.8998,"y":0.12,"g":"green"},{"x":25.9006,"y":0.23,"g":"green"},{"x":25.9014,"y":0.33,"g":"green"},{"x":25.9021,"y":0.69,"g":"green"},{"x":25.9027,"y":0.33,"g":"green"},{"x":25.9034,"y":2.24,"g":"green"},{"x":25.904,"y":0.59,"g":"green"},{"x":25.9046,"y":0.33,"g":"green"},{"x":25.9055,"y":0.12,"g":"green"},{"x":25.9062,"y":0,"g":"green"}
],
"snp": [{"x":25.7722,"y":0,"y2":3.19,"ly":3.71,"label":"rs4712972"}]
},
"layer": [
{"data": {"name": "spk"},
 "mark": {"type": "area", "interpolate": "linear", "strokeWidth": 1.4, "strokeJoin": "round"},
 "encoding": {
  "x": {"field": "x", "type": "quantitative", "scale": {"domain": [25.6524, 26.3726], "nice": false, "zero": false}, "axis": {"values": [25.7, 25.9, 26.1, 26.3], "orient": "bottom", "grid": true, "gridColor": "#F2F2F2", "gridWidth": 2.3, "labels": false, "ticks": false, "domain": false, "title": null, "zindex": 0}},
  "y": {"field": "y", "type": "quantitative", "stack": null, "scale": {"domain": [-1.61, 33.67], "nice": false, "zero": false}, "axis": {"values": [5, 15, 25], "orient": "left", "grid": true, "gridColor": "#F2F2F2", "gridWidth": 2.3, "labels": false, "ticks": false, "domain": false, "title": null, "zindex": 0}},
  "y2": {"datum": 0},
  "color": {"field": "g", "type": "nominal", "scale": {"domain": ["orange", "blue", "purple", "green"], "range": ["#FF7F00", "#1F78B4", "#6A3D9A", "#33A02C"]}, "legend": null},
  "stroke": {"field": "g", "type": "nominal", "scale": {"domain": ["orange", "blue", "purple", "green"], "range": ["#FF7F00", "#1F78B4", "#6A3D9A", "#33A02C"]}, "legend": null}
 }},
{"data": {"name": "red"},
 "mark": {"type": "area", "color": "#E31A1C", "stroke": "#E31A1C", "strokeWidth": 1.6, "strokeJoin": "round", "interpolate": "linear"},
 "encoding": {
  "x": {"field": "x", "type": "quantitative",
        "axis": {"values": [25.8, 26.0, 26.2], "format": ".1f", "title": "position (Mb)", "orient": "bottom", "grid": true, "gridColor": "#FFFFFF", "gridWidth": 4.3, "domain": false, "ticks": true, "tickColor": "#7F7F7F", "tickSize": 15, "tickWidth": 3.8, "labelFont": "Liberation Sans", "labelFontSize": 35, "labelColor": "#7F7F7F", "labelPadding": 8, "labelFlush": false, "labelOverlap": false, "titleFont": "Liberation Sans", "titleFontSize": 44, "titleFontWeight": "normal", "titleColor": "#000000", "titleX": 1940.5, "titleY": 98, "titleBaseline": "alphabetic", "titleAlign": "center", "zindex": 0}},
  "y": {"field": "y", "type": "quantitative", "stack": null,
        "axis": {"values": [0, 10, 20, 30], "format": "d", "title": "-log₁₀(p)", "orient": "left", "grid": true, "gridColor": "#FFFFFF", "gridWidth": 4.3, "domain": false, "ticks": true, "tickColor": "#7F7F7F", "tickSize": 14.5, "tickWidth": 3.8, "labelFont": "Liberation Sans", "labelFontSize": 35, "labelColor": "#7F7F7F", "labelPadding": 13, "labelOverlap": false, "titleFont": "Liberation Sans", "titleFontSize": 45, "titleFontWeight": "normal", "titleColor": "#000000", "titleAngle": 270, "titleX": -89, "titleY": 972, "titleBaseline": "alphabetic", "titleAlign": "center", "zindex": 0}},
  "y2": {"datum": 0}
 }},
{"data": {"name": "snp"},
 "mark": {"type": "rule", "color": "#000000", "strokeWidth": 5.1, "strokeDash": [14.2, 14.2]},
 "encoding": {
  "x": {"field": "x", "type": "quantitative", "axis": null},
  "y": {"field": "y", "type": "quantitative", "axis": null},
  "y2": {"field": "y2"}
 }},
{"data": {"name": "snp"},
 "mark": {"type": "point", "shape": "circle", "filled": true, "color": "#000000", "opacity": 1, "size": 284, "strokeWidth": 0},
 "encoding": {
  "x": {"field": "x", "type": "quantitative", "axis": null},
  "y": {"field": "y", "type": "quantitative", "axis": null}
 }},
{"data": {"name": "snp"},
 "mark": {"type": "text", "font": "Liberation Sans", "fontSize": 41.7, "color": "#000000", "align": "center", "baseline": "alphabetic"},
 "encoding": {
  "x": {"field": "x", "type": "quantitative", "axis": null},
  "y": {"field": "ly", "type": "quantitative", "axis": null},
  "text": {"field": "label"}
 }}
],
"resolve": {"axis": {"x": "independent", "y": "independent"}}
}
